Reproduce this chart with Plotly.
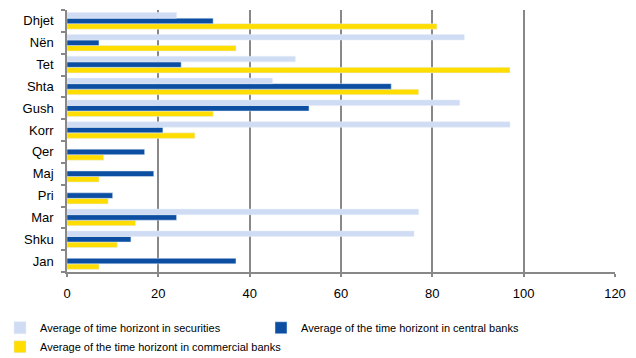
import plotly.graph_objects as go

# Months (bottom to top) and average time horizons
months = ["Jan", "Shku", "Mar", "Pri", "Maj", "Qer", "Korr", "Gush", "Shta", "Tet", "Nën", "Dhjet"]
securities = [0, 76, 77, 0, 0, 0, 97, 86, 45, 50, 87, 24]
central_banks = [37, 14, 24, 10, 19, 17, 21, 53, 71, 25, 7, 32]
commercial_banks = [7, 11, 15, 9, 7, 8, 28, 32, 77, 97, 37, 81]

x_ticks = [0, 20, 40, 60, 80, 100, 120]

font_family = "Liberation Sans, Arial, sans-serif"

fig = go.Figure()
# Traces added bottom-to-top within each month group
fig.add_trace(go.Bar(
    y=months, x=commercial_banks, orientation="h",
    name="Average of the time horizont in commercial banks",
    marker=dict(color="#FFDD00"), legendrank=3,
))
fig.add_trace(go.Bar(
    y=months, x=central_banks, orientation="h",
    name="Average of the time horizont in central banks",
    marker=dict(color="#0B4EA2"), legendrank=2,
))
fig.add_trace(go.Bar(
    y=months, x=securities, orientation="h",
    name="Average of time horizont in securities",
    marker=dict(color="#CFDCF3"), legendrank=1,
))

fig.update_layout(
    width=636, height=358,
    margin=dict(l=67, r=18, t=10, b=86),
    paper_bgcolor="white", plot_bgcolor="white",
    barmode="group", bargap=0.24, bargroupgap=0,
    font=dict(family=font_family, color="#000000", size=13),
    showlegend=True,
    legend=dict(
        orientation="h", xref="container", yref="container",
        x=0, y=0.125, xanchor="left", yanchor="top",
        entrywidth=216, entrywidthmode="pixels",
        font=dict(size=11, family=font_family), tracegroupgap=0,
        itemwidth=30,
    ),
    xaxis=dict(
        range=[0, 120], tickvals=x_ticks, ticktext=[str(v) for v in x_ticks],
        showgrid=True, gridcolor="#888888", gridwidth=1.5,
        showline=True, linecolor="#888888", linewidth=1.5,
        ticks="outside", ticklen=3, tickcolor="#888888", tickwidth=1.5,
        ticklabelstandoff=6, zeroline=False,
        tickfont=dict(size=13),
    ),
    yaxis=dict(
        type="category", categoryorder="array", categoryarray=months,
        showline=True, linecolor="#888888", linewidth=1.5,
        ticks="outside", tickson="boundaries", ticklen=4,
        tickcolor="#888888", tickwidth=1.5,
        ticklabelstandoff=9, showgrid=False,
        tickfont=dict(size=13),
    ),
)

fig.write_html("out.html")
